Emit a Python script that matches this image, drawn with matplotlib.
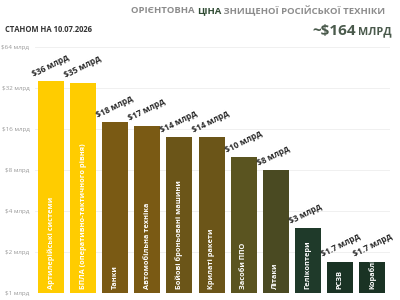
import matplotlib
matplotlib.use("Agg")
import matplotlib.pyplot as plt
import numpy as np

categories = ["Артилерійські системи", "БПЛА (оперативно-тактичного рівня)", "Танки",
              "Автомобільна техніка", "Бойові броньовані машини", "Крилаті ракети",
              "Засоби ППО", "Літаки", "Гелікоптери", "РСЗВ", "Кораблі"]
values = [36, 35, 18, 17, 14, 14, 10, 8, 3, 1.7, 1.7]
value_labels = ["$36 млрд", "$35 млрд", "$18 млрд", "$17 млрд", "$14 млрд", "$14 млрд",
                "$10 млрд", "$8 млрд", "$3 млрд", "$1.7 млрд", "$1.7 млрд"]
colors = ["#FFCC00", "#FFCC00", "#7A5A14", "#7A5A14", "#6B5518", "#6B5518",
          "#5A5420", "#4A4A22", "#1F3A2A", "#1A3324", "#1A3324"]
yticks = [1, 2, 4, 8, 16, 32, 64]
ytick_labels = ["$1 млрд", "$2 млрд", "$4 млрд", "$8 млрд", "$16 млрд", "$32 млрд", "$64 млрд"]

plt.rcParams['font.family'] = ['Open Sans', 'DejaVu Sans']

fig = plt.figure(figsize=(4, 3), dpi=100)
ax = fig.add_axes([0.0875, 0.023, 0.8875, 0.82])
x = np.arange(len(values))
ax.bar(x, values, width=0.81, color=colors, zorder=2)
ax.set_yscale('log', base=2)
ax.set_ylim(1, 64)
ax.set_xlim(-0.5, len(values) - 0.44)
ax.set_yticks(yticks)
ax.set_yticklabels(ytick_labels, fontsize=4.5, color="#9a9a9a")
ax.minorticks_off()
ax.tick_params(axis='y', length=0, pad=4)
ax.set_xticks([])
for s in ax.spines.values():
    s.set_visible(False)
ax.grid(axis='y', color="#eeeeee", linewidth=0.6, zorder=0)

for i, (v, lab, cat) in enumerate(zip(values, value_labels, categories)):
    ax.text(i - 0.5, v * 1.04, lab, rotation=27, rotation_mode='anchor',
            ha='left', va='bottom', fontsize=6, fontweight='bold', color="#2a2a2a")
    ax.text(i, 1.07, cat, rotation=90, ha='center', va='bottom',
            fontsize=5.3, fontweight='bold', color='white', zorder=3)

# Title with coloured word
renderer = fig.canvas.get_renderer()
parts = [("ОРІЄНТОВНА ", "#8c8c8c"), ("ЦІНА", "#2E4A32"), (" ЗНИЩЕНОЇ РОСІЙСЬКОЇ ТЕХНІКИ", "#8c8c8c")]
widths = []
texts = []
for txt, col in parts:
    t = fig.text(0, 0.965, txt, fontsize=6.8, fontweight='bold', color=col, ha='left', va='center')
    texts.append(t)
    widths.append(t.get_window_extent(renderer=renderer).width / fig.bbox.width)
xpos = 0.9625 - sum(widths)
for t, w in zip(texts, widths):
    t.set_x(xpos)
    xpos += w

fig.text(0.012, 0.9, "СТАНОМ НА 10.07.2026", fontsize=5.5, fontweight='bold', color="#333333",
         ha='left', va='center')

t2 = fig.text(0.98, 0.895, "МЛРД", fontsize=7.8, fontweight='bold', color="#4a5a4c",
              ha='right', va='center')
bb2 = t2.get_window_extent(renderer=renderer)
fig.text(0.98 - bb2.width / fig.bbox.width - 0.006, 0.898, "~$164", fontsize=11, fontweight='bold',
         color="#4a5a4c", ha='right', va='center')

fig.savefig("out.png", dpi=100)
